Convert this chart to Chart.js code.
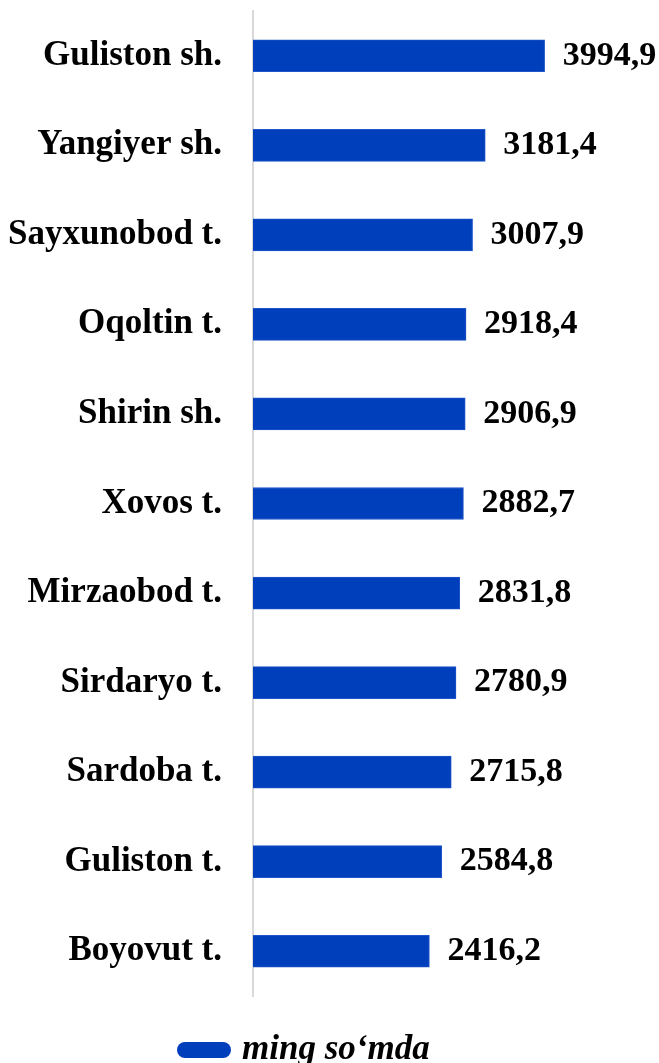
<!DOCTYPE html>
<html>
<head>
<meta charset="utf-8">
<script src="https://cdn.jsdelivr.net/npm/chart.js@4"></script>
<style>
    html, body { margin: 0; padding: 0; background: #ffffff; overflow: hidden; }
    #wrap { position: relative; width: 659px; height: 1063px; }
</style>
</head>
<body>
<div id="wrap"><canvas id="chart"></canvas></div>
<script>
// Districts, top to bottom
const districts = [
    'Guliston sh.', 'Yangiyer sh.', 'Sayxunobod t.', 'Oqoltin t.', 'Shirin sh.',
    'Xovos t.', 'Mirzaobod t.', 'Sirdaryo t.', 'Sardoba t.', 'Guliston t.', 'Boyovut t.'
];
const values = [3994.9, 3181.4, 3007.9, 2918.4, 2906.9, 2882.7, 2831.8, 2780.9, 2715.8, 2584.8, 2416.2];
const seriesLabel = 'ming so\u2018mda';

const barColor = '#003fbb';
const serif = "'Liberation Serif', 'Times New Roman', serif";

// Value labels right of each bar, decimal comma
const valueLabels = {
    id: 'valueLabels',
    afterDatasetsDraw(chart) {
        const ctx = chart.ctx;
        const meta = chart.getDatasetMeta(0);
        ctx.save();
        ctx.font = `bold 34px ${serif}`;
        ctx.fillStyle = '#000000';
        ctx.textAlign = 'left';
        ctx.textBaseline = 'middle';
        meta.data.forEach((bar, i) => {
            const text = values[i].toFixed(1).replace('.', ',');
            ctx.fillText(text, bar.x + 18, bar.y);
        });
        ctx.restore();
    }
};

// Legend drawn by hand so it can sit left of centre like the original
const pillLegend = {
    id: 'pillLegend',
    afterDraw(chart) {
        const ctx = chart.ctx;
        const ds = chart.data.datasets[0];
        ctx.save();
        ctx.fillStyle = ds.backgroundColor;
        ctx.beginPath();
        ctx.roundRect(177, 1042, 54, 16, 8);
        ctx.fill();
        ctx.font = `italic bold 35px ${serif}`;
        ctx.fillStyle = '#000000';
        ctx.textAlign = 'left';
        ctx.textBaseline = 'alphabetic';
        ctx.fillText(ds.label, 242, 1059);
        ctx.restore();
    }
};

new Chart(document.getElementById('chart'), {
    type: 'bar',
    data: {
        labels: districts,
        datasets: [
            {
                label: seriesLabel,
                data: values,
                backgroundColor: barColor,
                borderColor: '#1f55c8',
                borderWidth: 1,
                borderSkipped: 'start',
                barThickness: 32
            }
        ]
    },
    options: {
        indexAxis: 'y',
        responsive: true,
        maintainAspectRatio: false,
        animation: false,
        layout: {
            padding: { top: 11, right: 41, bottom: 67, left: 0 }
        },
        plugins: {
            legend: { display: false },
            tooltip: { enabled: false }
        },
        scales: {
            x: {
                display: false,
                min: 0,
                max: 5000
            },
            y: {
                afterFit(scale) {
                    // fixed axis width, and no extra room for half-labels
                    scale.width = 253;
                    scale.paddingTop = 0;
                    scale.paddingBottom = 0;
                },
                grid: { display: false },
                border: { display: true, color: '#d9d9d9', width: 2 },
                ticks: {
                    padding: 23,
                    color: '#000000',
                    font: { family: serif, size: 35, weight: 'bold' }
                }
            }
        }
    },
    plugins: [valueLabels, pillLegend]
});
</script>
</body>
</html>
